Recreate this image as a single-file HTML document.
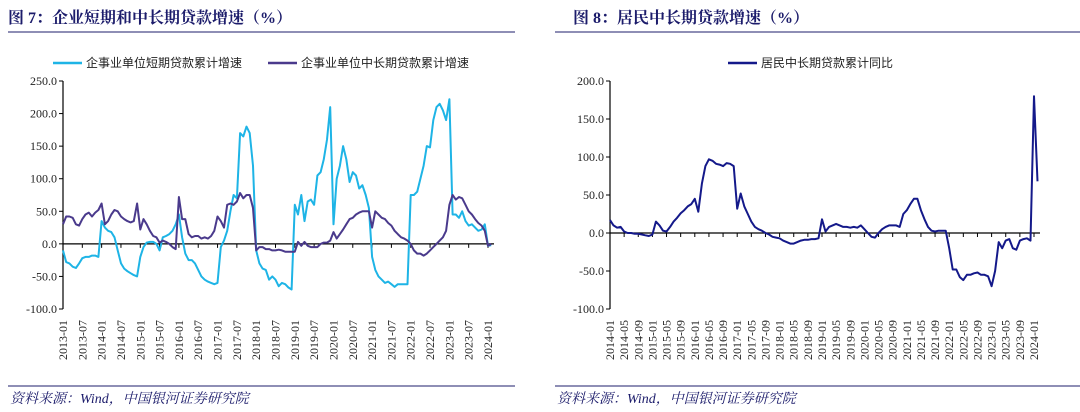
<!DOCTYPE html>
<html><head><meta charset="utf-8"><style>
body{margin:0;background:#fff;}
svg{display:block;font-family:"Liberation Serif","Noto Serif CJK SC",serif;}
.t{font-family:"Liberation Serif","Noto Serif CJK SC",serif;font-weight:bold;font-size:16px;fill:#1c1c6b;}
.lg{font-family:"Liberation Sans","Noto Sans CJK SC",sans-serif;font-size:12px;fill:#222;}
.src{font-family:"Liberation Serif","Noto Serif CJK SC",serif;font-style:italic;font-size:14px;fill:#1c1c6b;}
.yl{font-size:12px;fill:#222;}
.xl{font-size:12px;fill:#222;}
</style></head><body>
<svg id="s" width="1080" height="412" viewBox="0 0 1080 412">
<text class="t" x="8" y="23">图 7：企业短期和中长期贷款增速（%）</text>
<line x1="8" y1="32" x2="515" y2="32" stroke="#1c1c6b" stroke-width="1"/>
<text class="t" x="573" y="23">图 8：居民中长期贷款增速（%）</text>
<line x1="555" y1="32" x2="1080" y2="32" stroke="#1c1c6b" stroke-width="1"/>
<line x1="8" y1="386" x2="515" y2="386" stroke="#1c1c6b" stroke-width="1"/>
<line x1="555" y1="386" x2="1080" y2="386" stroke="#1c1c6b" stroke-width="1"/>
<text class="src" x="10" y="403">资料来源：Wind，中国银河证券研究院</text>
<text class="src" x="557" y="403">资料来源：Wind，中国银河证券研究院</text>
<line x1="53" y1="63" x2="82" y2="63" stroke="#1eb4e6" stroke-width="2.5"/>
<text class="lg" x="86" y="67">企事业单位短期贷款累计增速</text>
<line x1="268" y1="63" x2="297" y2="63" stroke="#4a3a8c" stroke-width="2.5"/>
<text class="lg" x="301" y="67">企事业单位中长期贷款累计增速</text>
<line x1="728" y1="63" x2="757" y2="63" stroke="#14198a" stroke-width="2.5"/>
<text class="lg" x="761" y="67">居民中长期贷款累计同比</text>
<g id="L"></g><g id="R"></g>
</svg>
<script>
const leftTicks=[-100,-50,0,50,100,150,200,250];
const rightTicks=[-100,-50,0,50,100,150,200];
const shortTerm=[-10,-28,-30,-35,-37,-30,-22,-20,-20,-18,-18,-20,
35,25,20,18,10,-10,-30,-38,-42,-45,-48,-50,
-20,-5,2,3,3,0,-10,10,12,15,20,30,
45,10,-15,-25,-25,-30,-40,-50,-55,-58,-60,-62,
-60,-5,5,20,50,75,70,170,165,180,170,120,
-10,-30,-38,-40,-55,-50,-55,-65,-60,-62,-67,-70,
60,45,75,35,65,68,60,105,110,130,160,210,
30,100,120,150,130,95,110,105,85,90,75,55,
-20,-40,-50,-55,-60,-58,-62,-66,-62,-62,-62,-62,
75,75,80,100,120,150,148,190,210,215,205,190,
222,45,45,40,50,35,28,30,25,20,22,30,
-3,-2];
const longTerm=[30,42,42,40,30,28,38,45,48,42,48,52,
62,30,35,45,52,50,42,38,35,33,35,62,
22,38,30,20,12,10,2,5,3,0,-5,-8,
72,38,38,15,10,12,12,8,10,8,12,20,
42,35,25,60,62,60,65,78,70,75,75,55,
-10,-5,-5,-8,-8,-10,-10,-9,-10,-12,-12,-12,
-12,3,-3,3,-3,-5,-5,-5,0,2,2,5,
18,8,15,22,30,38,40,45,48,50,50,50,
25,50,45,40,38,32,28,20,15,10,8,5,
0,-10,-15,-15,-18,-15,-10,-5,0,5,10,20,
60,75,68,72,70,60,50,45,38,32,28,20,
-3,0];
const household=[17,10,7,8,2,0,0,-1,-1,-2,-3,-4,
-2,15,10,3,2,8,15,20,26,30,35,38,
45,28,65,88,97,95,91,90,88,92,91,88,
32,52,35,25,15,8,5,3,0,-2,-5,-6,
-7,-10,-12,-14,-14,-12,-10,-9,-9,-8,-8,-7,
18,2,8,10,12,10,8,8,7,8,7,10,
5,0,-5,-6,0,5,8,10,10,10,8,25,
30,38,45,45,30,18,8,3,2,3,3,3,
-20,-48,-48,-58,-62,-55,-55,-53,-52,-55,-55,-57,
-70,-50,-12,-20,-10,-8,-20,-22,-10,-8,-7,-10,
180,68];
const NS="http://www.w3.org/2000/svg";
function mk(tag,attrs,parent){const e=document.createElementNS(NS,tag);for(const k in attrs)e.setAttribute(k,attrs[k]);parent.appendChild(e);return e;}
function lab(y,m){return y+"-"+String(m).padStart(2,"0");}
function chart(g,cfg){
  const ys=v=>cfg.y1-(v-cfg.vmin)/(cfg.vmax-cfg.vmin)*(cfg.y1-cfg.y0);
  const xs=i=>cfg.x0+i*(cfg.x1-cfg.x0)/cfg.span;
  const ax=mk('line',{x1:cfg.x0,y1:ys(cfg.vmax),x2:cfg.x0,y2:ys(cfg.vmin),stroke:'#000','stroke-width':1.2},g);
  
  cfg.ticks.forEach(v=>{
    const tk=mk('line',{x1:cfg.x0-4,y1:ys(v),x2:cfg.x0,y2:ys(v),stroke:'#000'},g);
    
    const t=mk('text',{x:cfg.x0-6,y:ys(v)+4,'text-anchor':'end',class:'yl',fill:v<0?'#d8262b':'#222'},g);
    t.textContent=v.toFixed(1);
    
  });
  const z=mk('line',{x1:cfg.x0,y1:ys(0),x2:cfg.x1+6,y2:ys(0),stroke:'#000','stroke-width':1.2},g);
  
  for(let i=0;i<=cfg.span;i+=cfg.step){
    const x=xs(i);
    const tk=mk('line',{x1:x,y1:ys(0),x2:x,y2:ys(0)+4,stroke:'#000'},g);
    
    const mo=cfg.m0+i;const yr=cfg.yr0+Math.floor(mo/12);const m=mo%12+1;
    const t=mk('text',{x:0,y:0,'text-anchor':'end',class:'xl',transform:`translate(${x+4},${cfg.ly}) rotate(-90)`},g);
    t.textContent=lab(yr,m);
    
  }
  cfg.series.forEach(s=>{
    const d=s.data.map((v,i)=>(i?'L':'M')+xs(i).toFixed(1)+','+ys(v).toFixed(1)).join('');
    const p=mk('path',{d:d,fill:'none',stroke:s.c,'stroke-width':2,'stroke-linejoin':'round'},g);
    
  });
}
chart(document.getElementById('L'),{p:'left',x0:63,x1:488,span:132,step:6,y0:81,y1:309,vmax:250,vmin:-100,ticks:leftTicks,ly:320,yr0:2013,m0:0,
  series:[{data:shortTerm,c:'#1eb4e6',n:'short-term-loan-line'},{data:longTerm,c:'#4a3a8c',n:'long-term-loan-line'}]});
chart(document.getElementById('R'),{p:'right',x0:610,x1:1034,span:120,step:4,y0:81,y1:309,vmax:200,vmin:-100,ticks:rightTicks,ly:320,yr0:2014,m0:0,
  series:[{data:household,c:'#14198a',n:'household-loan-line'}]});
</script>
</body></html>
